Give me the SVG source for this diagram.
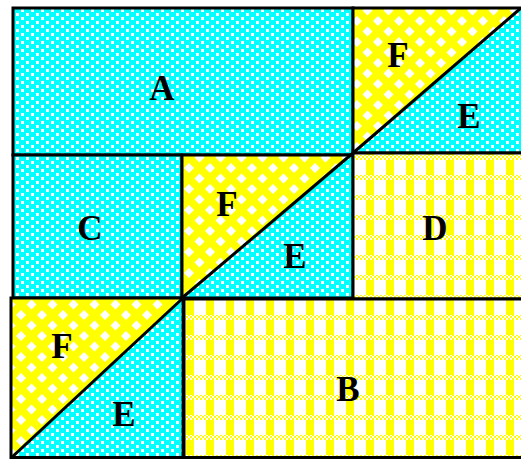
<svg xmlns="http://www.w3.org/2000/svg" width="521" height="459" viewBox="0 0 521 459">
  <defs>
    <pattern id="dots" patternUnits="userSpaceOnUse" x="0" y="0" width="10" height="8">
      <rect width="10" height="8" fill="#00FFFF"/>
      <rect x="1" y="1" width="3" height="3" fill="#FFFFFF"/>
      <rect x="6" y="5" width="3" height="3" fill="#FFFFFF"/>
    </pattern>
    <pattern id="diamonds" patternUnits="userSpaceOnUse" x="0" y="0" width="21" height="21">
      <rect width="21" height="21" fill="#FFFF00"/>
      <polygon points="10.5,5.5 15.5,10.5 10.5,15.5 5.5,10.5" fill="#FFFFFF"/>
      <polygon points="0,-5 5,0 0,5 -5,0" fill="#FFFFFF"/>
      <polygon points="21,-5 26,0 21,5 16,0" fill="#FFFFFF"/>
      <polygon points="0,16 5,21 0,26 -5,21" fill="#FFFFFF"/>
      <polygon points="21,16 26,21 21,26 16,21" fill="#FFFFFF"/>
    </pattern>
    <pattern id="fine" patternUnits="userSpaceOnUse" x="0" y="0" width="4" height="4">
      <rect width="4" height="4" fill="#FFFFFF"/>
      <rect x="0" y="0" width="2" height="2" fill="#FFFF00"/>
      <rect x="2" y="2" width="2" height="2" fill="#FFFF00"/>
    </pattern>
    <pattern id="gingham" patternUnits="userSpaceOnUse" x="2" y="0" width="20" height="20">
      <rect width="20" height="20" fill="#FFFFFF"/>
      <rect x="4" y="0" width="8" height="15" fill="#FFFF00"/>
      <rect x="0" y="15" width="20" height="5" fill="url(#fine)"/>
    </pattern>
    <style>
      .ln { stroke: #000000; stroke-width: 3; fill: none; }
      .cy { fill: url(#dots); }
      .ye { fill: url(#diamonds); }
      .gi { fill: url(#gingham); }
      .lb { font-family: "Liberation Serif", "Times New Roman", serif; font-weight: bold; font-size: 35px; fill: #000000; text-anchor: middle; }
    </style>
  </defs>

  <g id="A">
    <rect class="cy" x="13" y="8" width="340" height="147"/>
    <rect class="ln" x="13" y="8" width="340" height="147"/>
    <text class="lb" x="162" y="100">A</text>
  </g>

  <g id="square-top-right">
    <polygon class="ye" points="353,8 522,8 353,153"/>
    <polygon class="cy" points="522,8 522,153 353,153"/>
    <rect class="ln" x="353" y="8" width="170" height="145"/>
    <text class="lb" x="398" y="67">F</text>
    <text class="lb" x="469" y="128">E</text>
  </g>

  <g id="C">
    <rect class="cy" x="13" y="155" width="169" height="143"/>
    <rect class="ln" x="13" y="155" width="169" height="143"/>
    <text class="lb" x="90" y="240">C</text>
  </g>

  <g id="square-middle">
    <polygon class="ye" points="182,155 353,155 353,153 182,298"/>
    <polygon class="cy" points="353,153 353,298 182,298"/>
    <rect class="ln" x="182" y="155" width="171" height="143"/>
    <text class="lb" x="227" y="216">F</text>
    <text class="lb" x="295" y="268">E</text>
  </g>

  <g id="D">
    <rect class="gi" x="353" y="153" width="169" height="146"/>
    <rect class="ln" x="353" y="153" width="170" height="146"/>
    <text class="lb" x="435" y="240">D</text>
  </g>

  <g id="square-bottom-left">
    <polygon class="ye" points="11,298 183,298 11,458"/>
    <polygon class="cy" points="183,298 183,458 11,458"/>
    <rect class="ln" x="11" y="298" width="172" height="159.5"/>
    <text class="lb" x="62" y="358">F</text>
    <text class="lb" x="124" y="426">E</text>
  </g>

  <g id="B">
    <rect class="gi" x="184" y="299" width="338" height="159"/>
    <rect class="ln" x="184" y="299" width="339" height="158.5"/>
    <text class="lb" x="348" y="401">B</text>
  </g>

  <g id="connectors">
    <line class="ln" x1="353" y1="153" x2="521" y2="8"/>
    <line class="ln" x1="182" y1="298" x2="353" y2="153"/>
    <line class="ln" x1="11" y1="458" x2="183" y2="298"/>
  </g>
</svg>
